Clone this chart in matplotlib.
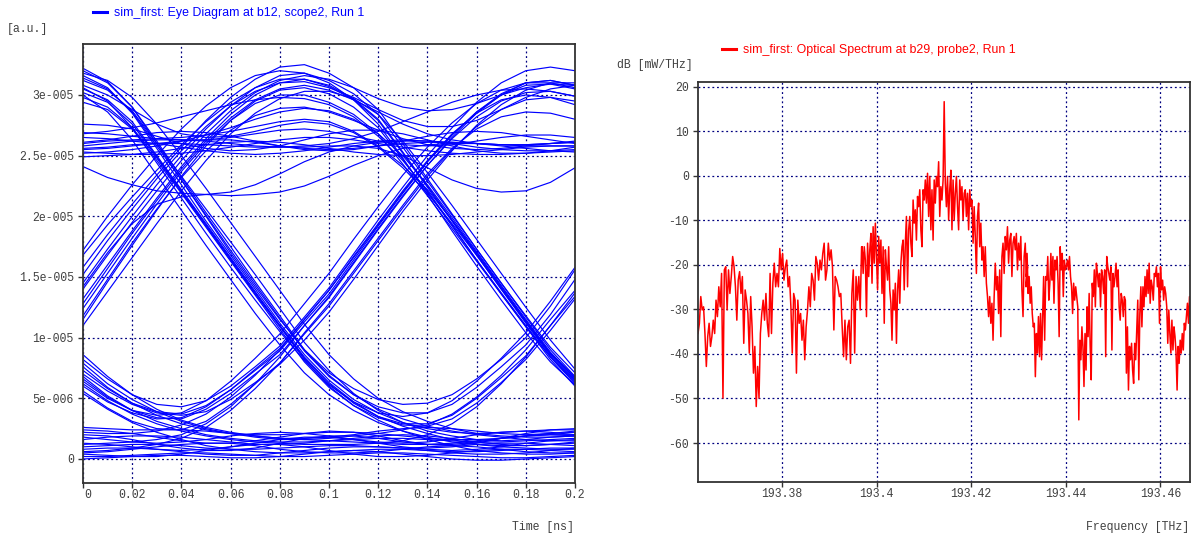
import numpy as np
import matplotlib.pyplot as plt
from matplotlib.transforms import ScaledTranslation

# 字体：刻度用等宽字体，图例用无衬线字体
MONO = 'Liberation Mono'
SANS = 'Liberation Sans'

# ---------------- 眼图数据 ----------------
# 时间轴 0 ~ 0.2 ns，每 0.01 ns 一个采样点；幅度单位为 1e-6 a.u.
eye_time = np.linspace(0, 0.2, 21)
eye_unit = 1e-6

# 高电平下降到零电平 (1-0-0)
eye_fall_to_zero = [
    [32.0, 31.0, 29.0, 26.2, 23.2, 20.3, 17.5, 14.6, 11.8, 9.0, 6.9, 5.3, 4.1, 3.3, 2.7, 2.3, 2.0, 1.8, 1.6, 1.5, 1.5],
    [30.5, 29.6, 27.8, 25.0, 22.2, 19.4, 16.6, 13.8, 11.0, 8.4, 6.3, 4.7, 3.5, 2.7, 2.1, 1.6, 1.2, 1.0, 0.9, 0.8, 0.8],
    [31.2, 30.4, 28.7, 26.0, 23.3, 20.6, 17.9, 15.2, 12.4, 9.6, 7.3, 5.4, 4.0, 3.0, 2.3, 1.9, 1.6, 1.5, 1.6, 1.8, 1.9],
    [29.8, 29.0, 27.3, 24.8, 22.0, 19.2, 16.4, 13.6, 10.9, 8.2, 6.0, 4.4, 3.2, 2.3, 1.6, 1.1, 0.7, 0.5, 0.4, 0.4, 0.5],
    [31.6, 30.6, 28.5, 25.6, 22.6, 19.6, 16.8, 14.0, 11.2, 8.6, 6.5, 4.9, 3.8, 3.0, 2.5, 2.2, 2.1, 2.2, 2.3, 2.4, 2.4],
    [31.8, 31.2, 29.8, 27.6, 25.0, 22.3, 19.5, 16.7, 13.9, 11.1, 8.6, 6.6, 5.0, 3.9, 3.1, 2.5, 2.1, 1.9, 1.8, 1.8, 1.9],
    [30.0, 28.6, 26.3, 23.4, 20.5, 17.6, 14.8, 12.0, 9.4, 7.1, 5.3, 4.0, 3.0, 2.3, 1.8, 1.4, 1.2, 1.1, 1.1, 1.2, 1.3],
]

# 高电平下降后在 0.14 ns 附近回升 (1-0-1)
eye_fall_to_u = [
    [31.4, 30.5, 28.6, 25.8, 23.0, 20.1, 17.2, 14.4, 11.6, 8.9, 6.8, 5.3, 4.3, 3.8, 3.8, 4.5, 5.9, 7.6, 9.4, 11.9, 14.8],
    [30.2, 29.4, 27.6, 24.9, 22.1, 19.3, 16.5, 13.7, 11.0, 8.3, 6.2, 4.6, 3.5, 2.9, 2.9, 3.6, 5.0, 6.7, 8.5, 11.0, 13.7],
    [32.2, 31.1, 29.0, 26.0, 23.0, 20.0, 17.0, 14.2, 11.5, 9.0, 7.1, 5.8, 4.9, 4.5, 4.6, 5.3, 6.6, 8.2, 10.0, 12.6, 15.6],
    [29.4, 28.8, 27.2, 24.6, 21.9, 19.1, 16.3, 13.5, 10.7, 8.0, 5.9, 4.4, 3.4, 2.8, 2.7, 3.3, 4.6, 6.3, 8.2, 10.6, 13.2],
    [30.6, 29.5, 27.3, 24.4, 21.5, 18.6, 15.8, 13.1, 10.5, 8.1, 6.1, 4.7, 3.8, 3.5, 3.8, 4.8, 6.4, 8.3, 10.4, 13.0, 15.8],
]

# 上升沿 -> 0.085 ns 峰值 -> 下降沿 (0-1-0)
eye_peak_then_fall = [
    [13.2, 16.0, 18.8, 21.5, 24.1, 26.4, 28.4, 30.0, 31.0, 31.3, 30.8, 29.7, 28.0, 25.3, 22.5, 19.7, 16.9, 14.1, 11.3, 8.6, 6.5],
    [11.5, 14.6, 17.6, 20.5, 23.3, 25.8, 27.9, 29.5, 30.4, 30.6, 30.1, 29.0, 27.3, 24.7, 22.0, 19.2, 16.4, 13.7, 11.0, 8.4, 6.2],
    [15.8, 18.5, 21.0, 23.4, 25.7, 27.9, 29.8, 31.3, 32.3, 32.5, 31.8, 30.6, 28.8, 26.0, 23.1, 20.2, 17.3, 14.5, 11.8, 9.2, 7.1],
    [12.4, 15.3, 18.2, 21.0, 23.7, 26.0, 27.9, 29.3, 30.0, 30.0, 29.4, 28.4, 26.8, 24.3, 21.7, 19.0, 16.3, 13.6, 10.9, 8.2, 6.0],
    [14.5, 17.3, 20.0, 22.6, 25.0, 27.2, 29.1, 30.6, 31.6, 31.8, 31.2, 30.1, 28.4, 25.7, 22.9, 20.1, 17.3, 14.5, 11.7, 9.0, 6.8],
    [16.8, 19.3, 21.6, 23.8, 25.9, 27.8, 29.4, 30.6, 31.3, 31.3, 30.7, 29.6, 27.9, 25.2, 22.4, 19.6, 16.8, 14.0, 11.3, 8.7, 6.7],
    [17.2, 20.0, 22.6, 25.0, 27.2, 29.1, 30.6, 31.6, 32.0, 31.8, 31.0, 29.6, 27.6, 24.8, 21.8, 18.8, 15.9, 13.1, 10.4, 8.0, 6.1],
    [11.0, 13.8, 16.6, 19.4, 22.1, 24.6, 26.8, 28.5, 29.7, 30.3, 30.3, 29.7, 28.4, 26.2, 23.6, 20.9, 18.1, 15.3, 12.5, 9.8, 7.4],
]

# 上升沿 -> 峰值 -> 保持高电平 (0-1-1)
eye_peak_then_high = [
    [12.8, 15.7, 18.6, 21.3, 23.9, 26.2, 28.1, 29.6, 30.5, 30.8, 30.4, 29.6, 28.6, 27.6, 26.8, 26.3, 26.0, 25.9, 25.9, 26.0, 26.1],
    [14.0, 16.8, 19.5, 22.1, 24.6, 26.8, 28.7, 30.2, 31.2, 31.6, 31.3, 30.6, 29.7, 29.0, 28.7, 28.8, 29.3, 30.0, 30.6, 30.9, 30.8],
    [11.8, 14.8, 17.8, 20.6, 23.2, 25.4, 27.1, 28.3, 28.9, 29.0, 28.6, 27.9, 27.1, 26.4, 25.9, 25.6, 25.5, 25.6, 25.8, 26.0, 26.2],
    [15.2, 18.0, 20.6, 23.1, 25.4, 27.4, 29.1, 30.3, 31.0, 31.1, 30.6, 29.8, 28.8, 27.9, 27.4, 27.4, 27.9, 28.8, 29.8, 30.5, 30.8],
    [14.2, 17.0, 19.4, 21.0, 21.6, 21.8, 22.0, 22.6, 23.5, 24.5, 25.3, 25.8, 26.1, 26.2, 26.2, 26.1, 26.0, 25.9, 25.9, 26.0, 26.1],
]

# 0.04 ns 处低谷后上升到 0.185 ns 峰值
eye_u_then_rise = [
    [6.6, 5.1, 4.0, 3.4, 3.3, 4.1, 5.4, 7.0, 8.6, 11.0, 13.3, 16.1, 18.9, 21.6, 24.2, 26.5, 28.5, 30.0, 31.0, 31.2, 30.8],
    [8.2, 6.6, 5.3, 4.5, 4.3, 4.8, 6.0, 7.6, 9.3, 11.7, 14.1, 16.9, 19.7, 22.4, 25.0, 27.3, 29.4, 31.0, 32.0, 32.3, 32.0],
    [5.6, 4.2, 3.1, 2.5, 2.4, 3.1, 4.5, 6.2, 7.9, 10.3, 12.6, 15.3, 18.0, 20.7, 23.3, 25.5, 27.4, 28.8, 29.6, 29.8, 29.5],
    [7.3, 5.8, 4.6, 3.9, 3.7, 4.4, 5.7, 7.3, 8.9, 11.3, 13.6, 16.4, 19.2, 21.9, 24.5, 26.7, 28.6, 30.0, 30.8, 30.9, 30.5],
    [6.0, 4.7, 3.8, 3.3, 3.4, 4.3, 5.7, 7.4, 9.1, 11.5, 13.9, 16.7, 19.4, 22.1, 24.6, 26.8, 28.5, 29.6, 30.0, 29.8, 29.2],
    [7.0, 5.6, 4.5, 3.8, 3.6, 3.9, 4.9, 6.3, 7.8, 9.8, 12.1, 14.8, 17.6, 20.4, 23.0, 25.4, 27.5, 29.2, 30.4, 31.0, 31.0],
    [6.4, 5.0, 4.0, 3.6, 3.8, 4.8, 6.4, 8.3, 10.3, 12.8, 15.3, 18.1, 20.8, 23.4, 25.7, 27.7, 29.3, 30.4, 31.0, 31.0, 30.6],
]

# 零电平后上升 (0-0-1)
eye_zero_then_rise = [
    [1.2, 1.3, 1.4, 1.6, 2.0, 2.9, 4.3, 6.2, 8.4, 11.0, 13.4, 16.2, 19.0, 21.7, 24.2, 26.4, 28.2, 29.5, 30.2, 30.3, 29.9],
    [2.2, 2.1, 2.1, 2.3, 2.8, 3.7, 5.1, 6.9, 9.0, 11.5, 13.9, 16.6, 19.3, 22.0, 24.5, 26.7, 28.6, 30.1, 31.0, 31.2, 30.8],
    [0.6, 0.7, 0.9, 1.2, 1.7, 2.6, 4.0, 5.8, 7.9, 10.4, 12.8, 15.5, 18.2, 20.9, 23.5, 25.6, 27.2, 28.2, 28.6, 28.5, 28.0],
]

# 下降沿尾部进入零电平，部分在末尾再次上升
eye_tail_to_zero = [
    [6.8, 5.2, 4.0, 3.1, 2.5, 2.0, 1.7, 1.5, 1.4, 1.4, 1.5, 1.6, 1.7, 1.7, 1.6, 1.5, 1.4, 1.4, 1.5, 1.6, 1.7],
    [5.4, 4.1, 3.0, 2.2, 1.6, 1.1, 0.8, 0.6, 0.5, 0.5, 0.6, 0.7, 0.8, 0.8, 0.7, 0.6, 0.6, 0.7, 0.8, 0.9, 0.9],
    [7.6, 5.9, 4.6, 3.6, 2.9, 2.4, 2.1, 2.0, 2.0, 2.1, 2.2, 2.2, 2.1, 1.9, 1.7, 1.6, 1.6, 1.7, 1.9, 2.1, 2.2],
    [8.6, 6.8, 5.3, 4.1, 3.2, 2.6, 2.2, 1.9, 1.7, 1.6, 1.5, 1.4, 1.3, 1.2, 1.2, 1.3, 1.5, 1.7, 1.9, 2.0, 2.0],
    [6.2, 4.8, 3.7, 2.9, 2.3, 1.9, 1.6, 1.4, 1.3, 1.2, 1.2, 1.2, 1.3, 1.5, 2.0, 2.9, 4.3, 6.2, 8.4, 11.0, 13.4],
    [7.9, 6.2, 4.9, 3.9, 3.1, 2.5, 2.1, 1.8, 1.6, 1.6, 1.7, 1.9, 2.1, 2.4, 2.8, 3.7, 5.1, 6.9, 9.0, 11.5, 13.9],
]

# 连续零电平 (0-0-0)
eye_zero = [
    [0.2, 0.2, 0.3, 0.4, 0.5, 0.5, 0.4, 0.3, 0.2, 0.2, 0.3, 0.4, 0.5, 0.5, 0.4, 0.3, 0.2, 0.1, 0.1, 0.2, 0.3],
    [1.0, 1.1, 1.2, 1.2, 1.1, 0.9, 0.8, 0.8, 0.9, 1.0, 1.1, 1.1, 1.0, 0.9, 0.9, 1.0, 1.2, 1.3, 1.3, 1.2, 1.1],
    [2.4, 2.3, 2.1, 1.8, 1.5, 1.3, 1.3, 1.5, 1.8, 2.1, 2.3, 2.2, 1.9, 1.5, 1.2, 1.1, 1.3, 1.7, 2.1, 2.4, 2.5],
    [1.6, 1.8, 1.9, 1.9, 1.8, 1.6, 1.4, 1.2, 1.2, 1.3, 1.5, 1.7, 1.9, 2.0, 1.9, 1.7, 1.4, 1.2, 1.1, 1.2, 1.4],
    [0.5, 0.6, 0.8, 1.0, 1.2, 1.3, 1.3, 1.1, 0.8, 0.6, 0.5, 0.5, 0.6, 0.8, 1.0, 1.1, 1.0, 0.8, 0.6, 0.5, 0.5],
    [2.0, 1.9, 1.6, 1.2, 0.9, 0.7, 0.7, 0.9, 1.3, 1.7, 1.9, 1.9, 1.7, 1.4, 1.2, 1.2, 1.4, 1.7, 1.9, 2.0, 1.9],
    [1.3, 1.2, 1.0, 0.8, 0.7, 0.8, 1.0, 1.3, 1.6, 1.8, 1.8, 1.6, 1.3, 1.0, 0.8, 0.7, 0.8, 1.0, 1.3, 1.5, 1.6],
    [0.0, 0.1, 0.2, 0.3, 0.3, 0.2, 0.1, 0.1, 0.2, 0.4, 0.6, 0.7, 0.6, 0.4, 0.2, 0.0, -0.1, -0.1, 0.0, 0.1, 0.2],
    [1.8, 1.6, 1.4, 1.3, 1.4, 1.6, 1.9, 2.1, 2.2, 2.1, 1.9, 1.6, 1.4, 1.3, 1.4, 1.7, 2.0, 2.2, 2.3, 2.2, 2.0],
    [0.8, 0.9, 0.9, 0.8, 0.6, 0.4, 0.3, 0.3, 0.5, 0.7, 0.9, 1.0, 1.0, 0.9, 0.7, 0.5, 0.4, 0.4, 0.5, 0.7, 0.9],
    [2.6, 2.5, 2.4, 2.4, 2.4, 2.3, 2.1, 1.9, 1.7, 1.7, 1.8, 2.0, 2.3, 2.5, 2.6, 2.5, 2.3, 2.1, 2.0, 2.1, 2.3],
    [0.4, 0.3, 0.2, 0.2, 0.4, 0.7, 1.0, 1.2, 1.2, 1.0, 0.7, 0.4, 0.2, 0.2, 0.3, 0.5, 0.7, 0.8, 0.8, 0.7, 0.6],
]

# 高电平保持后下降 (1-1-0)
eye_high_then_fall = [
    [26.0, 26.2, 26.3, 26.4, 26.5, 26.7, 27.0, 27.4, 27.8, 28.0, 27.8, 27.0, 25.8, 24.2, 22.2, 19.7, 17.0, 14.2, 11.4, 8.7, 6.6],
    [25.2, 25.3, 25.5, 25.8, 26.2, 26.7, 27.3, 28.0, 28.6, 28.9, 28.7, 28.0, 26.8, 25.0, 22.6, 19.9, 17.1, 14.3, 11.5, 8.8, 6.7],
    [30.8, 30.0, 28.8, 27.6, 26.8, 26.5, 26.6, 27.0, 27.5, 27.8, 27.6, 26.9, 25.7, 24.0, 21.9, 19.4, 16.8, 14.0, 11.2, 8.5, 6.4],
    [26.8, 27.0, 27.3, 27.7, 28.2, 28.7, 29.2, 29.6, 29.8, 29.7, 29.2, 28.2, 26.6, 24.6, 22.1, 19.3, 16.4, 13.6, 10.9, 8.4, 6.3],
]

# 连续高电平 (1-1-1)
eye_high = [
    [25.5, 25.6, 25.8, 26.0, 26.2, 26.3, 26.3, 26.1, 25.8, 25.6, 25.5, 25.6, 25.8, 26.0, 26.1, 26.1, 26.0, 25.8, 25.6, 25.4, 25.3],
    [26.5, 26.4, 26.2, 26.0, 25.7, 25.4, 25.2, 25.1, 25.2, 25.4, 25.7, 26.0, 26.2, 26.3, 26.2, 26.0, 25.7, 25.5, 25.4, 25.4, 25.5],
    [24.9, 25.0, 25.1, 25.3, 25.6, 25.9, 26.1, 26.2, 26.1, 25.9, 25.6, 25.3, 25.1, 25.0, 25.0, 25.1, 25.3, 25.5, 25.7, 25.8, 25.8],
    [27.6, 27.5, 27.2, 26.6, 26.0, 25.6, 25.4, 25.5, 25.8, 26.3, 26.8, 27.1, 27.1, 26.8, 26.3, 25.8, 25.4, 25.2, 25.2, 25.4, 25.7],
    [26.1, 26.3, 26.6, 26.9, 27.0, 26.9, 26.6, 26.2, 25.8, 25.5, 25.4, 25.5, 25.8, 26.2, 26.6, 26.9, 27.0, 26.9, 26.6, 26.3, 26.0],
    [24.1, 23.2, 22.6, 22.1, 21.9, 21.8, 21.7, 21.8, 22.0, 22.5, 23.3, 24.2, 25.0, 25.6, 25.9, 26.0, 26.0, 25.9, 25.8, 25.8, 25.8],
    [25.8, 26.0, 26.2, 26.3, 26.3, 26.2, 26.0, 25.8, 25.7, 25.7, 25.8, 25.8, 25.6, 25.0, 24.0, 23.0, 22.3, 22.0, 22.1, 22.8, 24.0],
    [25.3, 25.2, 25.1, 25.1, 25.2, 25.4, 25.7, 26.0, 26.3, 26.5, 26.5, 26.3, 26.0, 25.7, 25.4, 25.2, 25.1, 25.1, 25.2, 25.3, 25.4],
    [26.9, 26.8, 26.6, 26.4, 26.3, 26.3, 26.5, 26.8, 27.1, 27.2, 27.0, 26.6, 26.2, 25.9, 25.8, 25.9, 26.2, 26.5, 26.7, 26.7, 26.5],
    [25.6, 25.7, 25.9, 26.0, 26.0, 25.9, 25.8, 25.7, 25.7, 25.8, 26.0, 26.4, 27.0, 27.8, 28.6, 29.4, 30.0, 30.4, 30.5, 30.3, 29.9],
]

eye_groups = [eye_fall_to_zero, eye_fall_to_u, eye_peak_then_fall, eye_peak_then_high,
              eye_u_then_rise, eye_zero_then_rise, eye_tail_to_zero, eye_zero,
              eye_high_then_fall, eye_high]

eye_xticks = [0, 0.02, 0.04, 0.06, 0.08, 0.1, 0.12, 0.14, 0.16, 0.18, 0.2]
eye_xlabels = ['0', '0.02', '0.04', '0.06', '0.08', '0.1', '0.12', '0.14', '0.16', '0.18', '0.2']
eye_yticks = [0, 5e-6, 1e-5, 1.5e-5, 2e-5, 2.5e-5, 3e-5]
eye_ylabels = ['0', '5e-006', '1e-005', '1.5e-005', '2e-005', '2.5e-005', '3e-005']

# ---------------- 光谱数据 ----------------
# 三段频率区间 (THz)，每段内为等间隔采样的功率谱密度 (dB)
spec_band_a = (193.3622, 193.3971)
spec_db_a = [
    -35.4, -33.1, -27.1, -30.1, -29.4, -35.4, -42.8, -36.1, -33.1, -38.3,
    -36.1, -32.4, -35.4, -27.9, -31.6, -24.9, -29.4, -21.9, -49.9, -21.1,
    -20.4, -30.1, -21.1, -26.4, -22.6, -18.1, -20.4, -24.9, -32.4, -23.4,
    -21.5, -26.4, -22.6, -37.6, -25.6, -27.9, -30.9, -39.8, -27.1, -33.9,
    -44.3, -38.3, -51.8, -42.8, -49.9, -35.4, -30.9, -27.9, -32.4, -26.4,
    -33.1, -36.1, -21.9, -35.4, -24.1, -19.6, -24.9, -21.9, -24.9, -16.3,
    -21.1, -17.4, -23.4, -20.4, -18.9, -24.9, -22.6, -29.4, -39.8, -26.4,
    -27.9, -44.3, -27.9, -33.1, -30.9, -36.9, -32.4, -41.3, -33.9, -30.1,
    -24.9, -29.4, -21.9, -23.4, -27.9, -18.1, -19.6, -23.4, -18.9, -21.1,
    -17.4, -15.1, -23.4, -21.1, -15.1, -18.9, -16.6, -20.4, -34.6, -22.6,
    -23.4, -24.9, -27.1, -26.4, -33.9, -40.6, -32.4, -41.3, -33.9, -32.4,
    -42.1, -26.4, -21.1, -39.8, -22.6, -27.9, -22.6, -30.1, -15.9, -18.9,
]
spec_band_b = (193.3969, 193.4319)
spec_db_b = [
    -15.9, -21.9, -15.9, -18.9, -31.6, -15.1, -22.6, -16.6, -12.9, -24.1,
    -11.4, -19.6, -10.6, -18.1, -25.6, -13.6, -19.6, -14.4, -26.4, -15.9,
    -33.1, -16.6, -20.4, -23.4, -15.9, -25.6, -28.6, -36.9, -25.6, -30.1,
    -24.1, -37.6, -25.6, -21.1, -28.6, -19.6, -15.9, -14.4, -25.6, -15.1,
    -9.1, -24.9, -12.1, -9.1, -15.1, -18.1, -5.4, -10.6, -7.6, -14.4,
    -4.6, -6.9, -3.1, -12.1, -15.9, -3.1, -5.4, -0.9, -6.1, 0.6,
    -9.1, -0.1, -12.1, -3.1, -14.4, -0.9, -6.1, -0.1, -2.4, 3.2,
    -9.1, -2.4, -5.4, -0.9, 16.7, -1.6, -6.9, -0.1, -9.9, -3.1,
    1.3, -12.1, -0.9, -9.9, -3.9, -0.1, -6.9, -12.1, -0.9, -5.4,
    -2.4, -9.9, -3.9, -3.1, -9.1, -3.9, -12.1, -3.1, -6.9, -5.4,
    -15.1, -6.9, -13.6, -21.9, -9.1, -6.1, -15.9, -10.6, -18.9, -15.9,
    -22.6, -15.9, -24.1, -27.1, -31.6, -27.1, -33.1, -28.6, -36.9, -27.1,
    -19.6, -25.6, -22.6, -30.9, -21.1, -36.1, -18.1, -15.1, -21.9, -13.6,
    -16.6, -11.4, -19.6, -14.4, -12.9, -22.6, -15.1, -13.6, -16.6, -12.9,
    -21.1, -15.1, -18.9, -13.6, -25.6, -31.6, -18.1, -15.1, -22.6, -20.4,
]
spec_band_c = (193.4316, 193.4664)
spec_db_c = [
    -24.9, -17.4, -26.4, -22.6, -28.6, -24.9, -30.9, -33.9, -33.1, -45.1,
    -35.4, -39.8, -31.6, -40.6, -30.9, -41.3, -32.4, -22.6, -36.9, -22.6,
    -23.4, -18.1, -27.9, -24.1, -17.4, -23.4, -18.1, -28.6, -18.9, -21.1,
    -18.1, -24.1, -36.1, -15.9, -21.1, -17.4, -27.1, -18.9, -21.1, -20.4,
    -18.9, -21.1, -18.1, -22.6, -24.9, -30.9, -24.1, -27.9, -24.9, -27.1,
    -29.4, -54.8, -36.9, -41.3, -33.9, -38.3, -47.3, -35.4, -43.6, -29.4,
    -36.1, -26.4, -38.3, -45.8, -24.1, -27.1, -21.1, -29.4, -19.6, -21.9,
    -24.9, -21.9, -29.4, -21.1, -22.6, -26.4, -21.1, -40.6, -18.1, -20.4,
    -21.9, -23.4, -20.4, -39.1, -21.9, -24.9, -22.6, -19.6, -24.9, -21.1,
    -29.4, -32.4, -26.4, -27.9, -31.6, -27.1, -27.9, -44.3, -33.9, -48.1,
    -38.3, -41.3, -37.6, -43.6, -46.6, -37.6, -41.3, -34.6, -27.9, -45.8,
    -30.9, -24.9, -33.9, -24.9, -29.4, -22.6, -27.1, -21.1, -26.4, -19.6,
    -28.6, -23.4, -24.9, -27.9, -21.9, -22.6, -20.4, -24.9, -21.9, -33.1,
    -20.4, -25.6, -23.4, -27.9, -24.9, -26.4, -29.4, -37.6, -30.1, -35.4,
    -39.8, -32.4, -39.1, -33.9, -36.1, -39.8, -48.1, -38.3, -42.1, -36.9,
    -39.8, -35.4, -39.1, -33.1, -34.6, -31.6, -28.6, -33.1, -27.1, -31.6,
]

spec_xticks = [193.38, 193.40, 193.42, 193.44, 193.46]
spec_xlabels = ['193.38', '193.4', '193.42', '193.44', '193.46']
spec_yticks = [20, 10, 0, -10, -20, -30, -40, -50, -60]
spec_ylabels = ['20', '10', '0', '-10', '-20', '-30', '-40', '-50', '-60']

spec_freq = np.concatenate([np.linspace(*spec_band_a, len(spec_db_a)),
                            np.linspace(*spec_band_b, len(spec_db_b)),
                            np.linspace(*spec_band_c, len(spec_db_c))])
spec_db = np.concatenate([spec_db_a, spec_db_b, spec_db_c])


def style_axes(ax, xticks, xlabels, yticks, ylabels):
    # 坐标轴外观：灰色边框、向外的刻度、深蓝色点状网格
    for sp in ax.spines.values():
        sp.set_color('#333333')
        sp.set_linewidth(1.3)
    ax.set_xticks(xticks)
    ax.set_xticklabels(xlabels)
    ax.set_yticks(yticks)
    ax.set_yticklabels(ylabels)
    ax.tick_params(axis='both', direction='out', length=3.6, width=1.0, color='#333333',
                   labelcolor='#404040', labelsize=8.3)
    ax.tick_params(axis='x', pad=0.5)
    ax.tick_params(axis='y', pad=3.0)
    for lab in ax.get_xticklabels() + ax.get_yticklabels():
        lab.set_fontfamily(MONO)
    ax.grid(True, color='#000080', linestyle=(0, (1.5, 2.2)), linewidth=0.9)
    ax.set_axisbelow(True)


fig = plt.figure(figsize=(11.94, 5.33), dpi=100)

# ---------------- 左图：眼图 ----------------
ax1 = fig.add_axes([0.0695, 0.0938, 0.4121, 0.8236])
for group in eye_groups:
    for trace in group:
        ax1.plot(eye_time, np.array(trace) * eye_unit, color='#0000FF', linewidth=0.85)
ax1.set_xlim(0, 0.2)
ax1.set_ylim(-1.98e-6, 3.42e-5)
style_axes(ax1, eye_xticks, eye_xlabels, eye_yticks, eye_ylabels)
# "0" 标签稍向右移
first = ax1.get_xticklabels()[0]
first.set_transform(first.get_transform() + ScaledTranslation(0.05, 0, fig.dpi_scale_trans))

# ---------------- 右图：光谱 ----------------
ax2 = fig.add_axes([0.5846, 0.0957, 0.4121, 0.7505])
ax2.plot(spec_freq, spec_db, color='#FF0000', linewidth=1.1)
ax2.set_xlim(193.3622, 193.4663)
ax2.set_ylim(-68.76, 21.12)
style_axes(ax2, spec_xticks, spec_xlabels, spec_yticks, spec_ylabels)

# 图例标题
leg_kw = dict(loc='center left', bbox_transform=fig.transFigure, frameon=False, borderpad=0,
              borderaxespad=0, handlelength=1.15, handletextpad=0.55,
              prop={'family': SANS, 'size': 8.9})
ax1.legend([plt.Line2D([], [], color='#0000FF', linewidth=2.2)],
           ['sim_first: Eye Diagram at b12, scope2, Run 1'],
           bbox_to_anchor=(93 / 1194, 1 - 13 / 533), labelcolor='#0000FF', **leg_kw)
ax2.legend([plt.Line2D([], [], color='#FF0000', linewidth=2.2)],
           ['sim_first: Optical Spectrum at b29, probe2, Run 1'],
           bbox_to_anchor=(722 / 1194, 1 - 50 / 533), labelcolor='#FF0000', **leg_kw)

# 坐标轴单位
unit_style = dict(fontfamily=MONO, fontsize=8.3, color='#404040', va='center')
fig.text(7 / 1194, 1 - 29 / 533, '[a.u.]', ha='left', **unit_style)
fig.text(617 / 1194, 1 - 65 / 533, 'dB [mW/THz]', ha='left', **unit_style)
fig.text(574 / 1194, 1 - 527 / 533, 'Time [ns]', ha='right', **unit_style)
fig.text(1189 / 1194, 1 - 527 / 533, 'Frequency [THz]', ha='right', **unit_style)

fig.savefig('out.png', dpi=100)
